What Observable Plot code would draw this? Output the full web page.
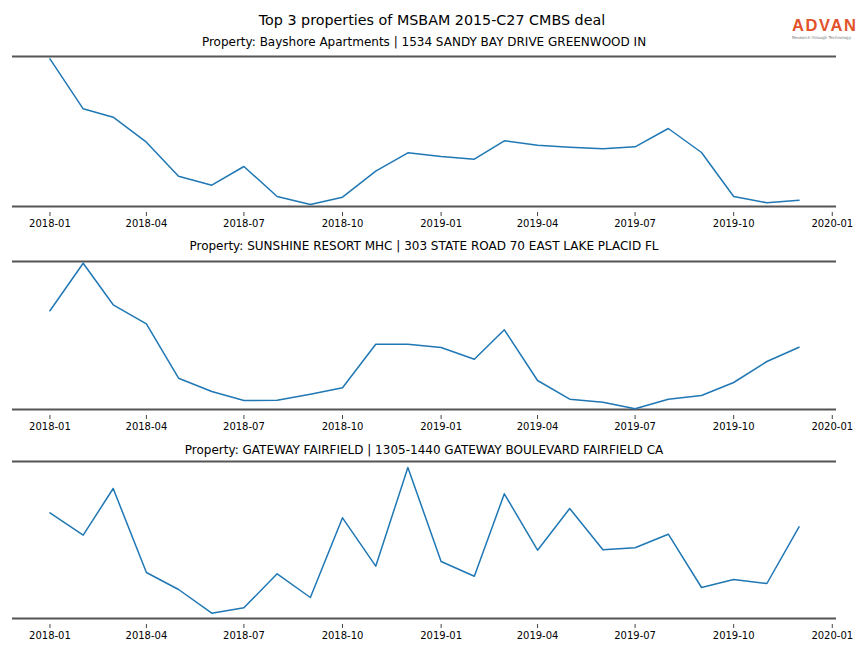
<!DOCTYPE html>
<html>
<head>
<meta charset="utf-8">
<script src="https://cdn.jsdelivr.net/npm/d3@7"></script>
<script src="https://cdn.jsdelivr.net/npm/@observablehq/plot@0.6"></script>
<style>
  html, body { margin: 0; padding: 0; background: #fff; }
  #wrap { position: relative; width: 864px; height: 648px; font-family: "DejaVu Sans", sans-serif; color: #000; overflow: hidden; }
  .abs { position: absolute; }
  .title { left: 0; width: 864px; text-align: center; font-size: 14.3px; line-height: 16px; top: 12px; }
  .sub { left: 12px; width: 824px; text-align: center; font-size: 12px; line-height: 14px; }
  .logo { left: 792px; top: 17px; width: 72px; text-align: left; }
  .logo .a { font-family: "Liberation Sans", sans-serif; font-weight: bold; font-size: 16.5px; line-height: 17px; color: #e2522b; letter-spacing: 1.6px; }
  .logo .b { font-size: 4px; line-height: 5px; color: #777; white-space: nowrap; margin-top: 1px; }
  svg { position: absolute; left: 0; }
</style>
</head>
<body>
<div id="wrap"></div>
<script>
const months = ["2018-01-01","2018-02-01","2018-03-01","2018-04-01","2018-05-01","2018-06-01",
  "2018-07-01","2018-08-01","2018-09-01","2018-10-01","2018-11-01","2018-12-01",
  "2019-01-01","2019-02-01","2019-03-01","2019-04-01","2019-05-01","2019-06-01",
  "2019-07-01","2019-08-01","2019-09-01","2019-10-01","2019-11-01","2019-12-01"];

const bayshore = [147.7, 97.7, 89.3, 64.3, 30.3, 21.3, 40, 10, 2, 9.3, 35.3, 53.7,
  50, 47.3, 65.7, 61.3, 59.3, 57.7, 59.7, 78, 54, 10, 3.7, 6.3];
const sunshine = [98.7, 146.3, 104.7, 85.7, 31.3, 18, 9, 9.3, 15.3, 21.7, 65.3, 65.3,
  62, 50.3, 79.7, 29, 10.3, 7.3, 0.7, 10.3, 14, 27, 48, 62.3];
const gateway = [105.7, 83.3, 130, 46, 29, 5.3, 10.7, 44.7, 21, 100.7, 52.3, 151,
  57, 42.3, 124.7, 68.3, 110, 68.7, 70.7, 84.3, 31, 39, 35, 91.7];

const tickLabels = ["2018-01","2018-04","2018-07","2018-10","2019-01","2019-04","2019-07","2019-10","2020-01"];

const mainTitle = "Top 3 properties of MSBAM 2015-C27 CMBS deal";
const panelTitles = [
  "Property: Bayshore Apartments | 1534 SANDY BAY DRIVE GREENWOOD IN",
  "Property: SUNSHINE RESORT MHC | 303 STATE ROAD 70 EAST LAKE PLACID FL",
  "Property: GATEWAY FAIRFIELD | 1305-1440 GATEWAY BOULEVARD FAIRFIELD CA"
];
const seriesList = [bayshore, sunshine, gateway];
const yMaxes = [150, 148, 157];

const wrap = document.getElementById("wrap");
const t = document.createElement("div");
t.className = "abs title"; t.textContent = mainTitle; wrap.appendChild(t);

const logo = document.createElement("div");
logo.className = "abs logo";
logo.innerHTML = '<div class="a">ADVAN</div><div class="b">Research through Technology</div>';
wrap.appendChild(logo);

const dates = months.map(d => new Date(d));
const ticks = tickLabels.map(s => new Date(s + "-01"));
const span = dates[dates.length - 1] - dates[0];
const xDomain = [new Date(+dates[0] - span * 0.05), new Date(+dates[dates.length - 1] + span * 0.05)];

const layout = [
  {subTop: 35, svgTop: 46, plotH: 150},
  {subTop: 239, svgTop: 251, plotH: 148},
  {subTop: 443, svgTop: 451, plotH: 157}
];

seriesList.forEach((vals, i) => {
  const L = layout[i];
  const s = document.createElement("div");
  s.className = "abs sub"; s.style.top = L.subTop + "px"; s.textContent = panelTitles[i];
  wrap.appendChild(s);
  const data = vals.map((v, j) => ({date: dates[j], value: v}));
  const yMax = yMaxes[i];
  const chart = Plot.plot({
    width: 864,
    height: L.plotH + 40,
    marginLeft: 12, marginRight: 28, marginTop: 10, marginBottom: 30,
    style: {fontFamily: "DejaVu Sans", fontSize: "10px", color: "#000", background: "transparent"},
    x: {type: "utc", domain: xDomain, axis: null},
    y: {domain: [0, yMax], axis: null},
    marks: [
      Plot.ruleY([0, yMax], {stroke: "#555", strokeWidth: 1.8}),
      Plot.axisX({ticks, tickFormat: d3.utcFormat("%Y-%m"), tickSize: 4, tickPadding: 3, dy: 6, stroke: "#444", label: null}),
      Plot.lineY(data, {x: "date", y: "value", stroke: "#1f77b4", strokeWidth: 1.5})
    ]
  });
  chart.style.top = L.svgTop + "px";
  wrap.appendChild(chart);
});
</script>
</body>
</html>
